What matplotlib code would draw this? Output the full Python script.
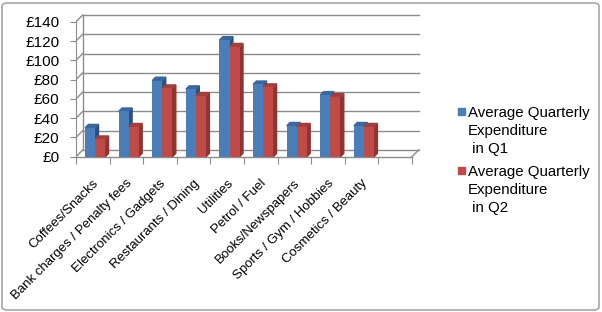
import matplotlib.pyplot as plt
import matplotlib.transforms as mtransforms
from matplotlib.patches import FancyBboxPatch, Rectangle

plt.rcParams['font.family'] = ['Liberation Sans', 'DejaVu Sans']

categories = ['Coffees/Snacks', 'Bank charges / Penalty fees', 'Electronics / Gadgets',
              'Restaurants / Dining', 'Utilities', 'Petrol / Fuel', 'Books/Newspapers',
              'Sports / Gym / Hobbies', 'Cosmetics / Beauty']
q1 = [30, 47, 79, 70, 121, 75, 32, 64, 32]
q2 = [18, 31, 71, 63, 114, 72, 31, 62, 31]
series_names = ['Average Quarterly\nExpenditure\n in Q1', 'Average Quarterly\nExpenditure\n in Q2']
yticks = [0, 20, 40, 60, 80, 100, 120, 140]
n_slots = 10  # excel left an empty slot at the end

front = ['#4A7EBB', '#BE4B48']
side = ['#2C4F7C', '#8A3634']
top = ['#3A679E', '#A23F3C']
grid_c = '#8C8C8C'

fig = plt.figure(figsize=(6.02, 3.12), dpi=100)
ax = fig.add_axes([76 / 602, 1 - 156.7 / 312, 10.35 * 33.6 / 602, 150 * 0.964 / 312])
ax.set_xlim(0, 10.35)
ax.set_ylim(0, 150)

# back wall / floor offsets (data units)
wdx, wdy = 0.2, 7
bdx, bdy = 0.1, 3.5

for v in yticks[1:]:
    ax.plot([wdx, n_slots + wdx], [v + wdy, v + wdy], color=grid_c, lw=1, zorder=1)
    ax.plot([0, wdx], [v, v + wdy], color=grid_c, lw=1, zorder=1)
ax.plot([wdx, wdx], [wdy, yticks[-1] + wdy], color=grid_c, lw=1, zorder=1)
ax.plot([wdx, n_slots + wdx], [wdy, wdy], color=grid_c, lw=1, zorder=1)
ax.plot([0, wdx], [0, wdy], color=grid_c, lw=1, zorder=1)
ax.plot([n_slots, n_slots + wdx], [0, wdy], color=grid_c, lw=1, zorder=1)
ax.plot([0, n_slots], [0, 0], color=grid_c, lw=1, zorder=1, clip_on=False)

bw = 0.3
for s, vals in enumerate([q1, q2]):
    for i, v in enumerate(vals):
        x0 = i + 0.27 + s * bw
        x1 = x0 + bw
        ax.fill([x1, x1 + bdx, x1 + bdx, x1], [0, bdy, v + bdy, v],
                color=side[s], zorder=2 + s)
        ax.fill([x0, x0 + bdx, x1 + bdx, x1], [v, v + bdy, v + bdy, v],
                color=top[s], zorder=2 + s)
    ax.bar([i + 0.27 + s * bw for i in range(len(vals))], vals, width=bw, align='edge',
           color=front[s], zorder=2 + s)

for sp in ['top', 'right', 'bottom']:
    ax.spines[sp].set_visible(False)
ax.spines['left'].set_color(grid_c)
ax.spines['left'].set_bounds(0, yticks[-1])
ax.set_yticks(yticks)
ax.set_yticklabels(['£%d' % v for v in yticks], fontsize=11)
ax.tick_params(axis='y', length=4, color=grid_c, pad=8)

ax.set_xticks(range(n_slots + 1))
ax.set_xticklabels([])
ax.tick_params(axis='x', which='major', length=5, color=grid_c, direction='out')
ax.set_xticks([i + 0.5 for i in range(len(categories))], minor=True)
ax.set_xticklabels(categories, minor=True, rotation=45, ha='right', va='center',
                   rotation_mode='anchor', fontsize=9.5)
ax.tick_params(axis='x', which='minor', length=0, pad=18)
shift = mtransforms.ScaledTranslation(4 / 100, 0, fig.dpi_scale_trans)
for lab in ax.get_xticklabels(minor=True):
    lab.set_transform(lab.get_transform() + shift)

# legend
for s, name in enumerate(series_names):
    ytop = 106 + s * 59
    fig.patches.append(Rectangle((458 / 602, 1 - (ytop + 9) / 312), 7 / 602, 7 / 312,
                                 transform=fig.transFigure, color=front[s]))
    fig.text(468 / 602, 1 - ytop / 312, name, fontsize=10.8, va='top', ha='left',
             linespacing=1.35)

fig.patches.append(FancyBboxPatch((2 / 602, 2 / 312), 597 / 602, 307 / 312,
                                  boxstyle='round,pad=0,rounding_size=0.01',
                                  transform=fig.transFigure, fill=False,
                                  edgecolor='#A6A6A6', lw=1.2))

fig.savefig('out.png', dpi=100)
